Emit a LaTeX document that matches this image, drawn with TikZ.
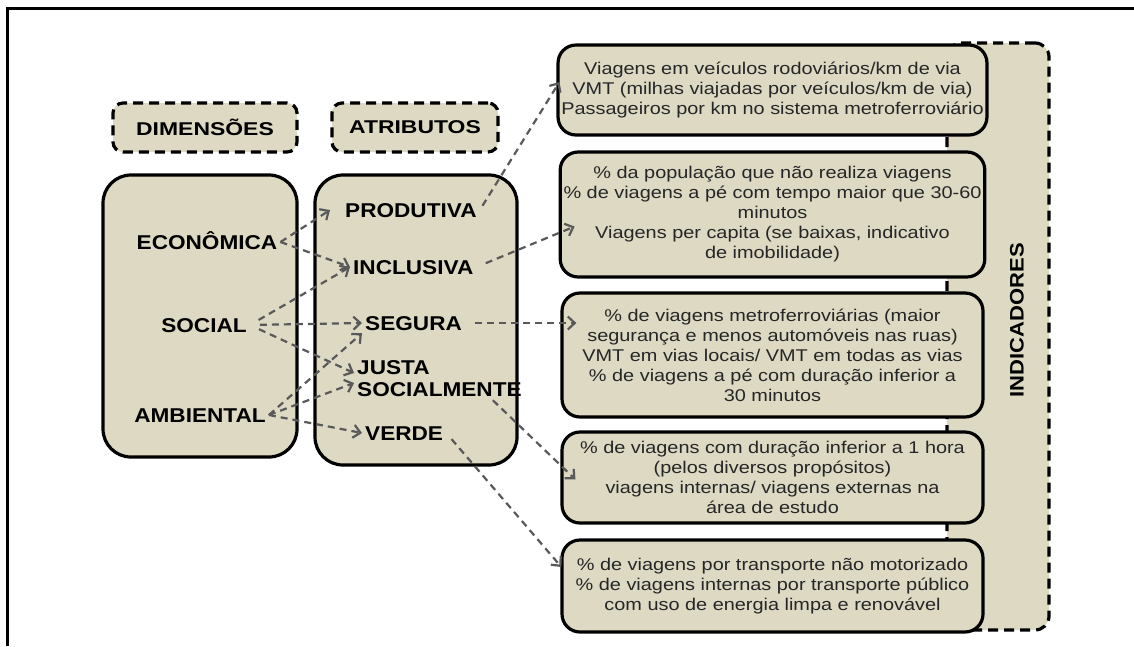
\documentclass[tikz,border=0pt]{standalone}
\usepackage{fontspec}
\setmainfont{Liberation Sans}
\newfontfamily\indfont{Liberation Sans}[FakeStretch=1.17]
\newfontfamily\labfont{Liberation Sans}[FakeStretch=1.13]
\newfontfamily\headfont{Liberation Sans}[FakeStretch=1.24]
\usepackage{tikz}
\usetikzlibrary{arrows.meta, positioning}
\definecolor{boxfill}{HTML}{DDD9C3}
\definecolor{linkgray}{HTML}{595959}
\definecolor{indtext}{HTML}{262626}

\begin{document}
\begin{tikzpicture}[
x=1pt, y=-1pt,
bigbox/.style={rectangle, draw, fill=boxfill, line width=3.2pt, rounded corners=28pt},
headbox/.style={rectangle, draw, fill=boxfill, line width=3.2pt, dash pattern=on 10pt off 6pt, rounded corners=10pt, font=\headfont\bfseries\fontsize{18.5}{20}\selectfont},
indbox/.style={rectangle, draw, fill=boxfill, line width=3.2pt, rounded corners=18pt, minimum width=421pt, align=center, text=indtext, font=\indfont\fontsize{17}{20}\selectfont},
dimtext/.style={font=\labfont\bfseries\fontsize{20}{22}\selectfont, inner sep=3pt, text height=14pt, text depth=0pt},
attrtext/.style={dimtext, anchor=west},
link/.style={draw=linkgray, line width=2.2pt, dash pattern=on 7pt off 5pt, -{Straight Barb[length=7pt,width=13pt]}}
]
\useasboundingbox (0,0) rectangle (1134,646);
\draw[line width=3pt] (7.5,646) -- (7.5,8.5) -- (1134,8.5);

% left columns
\node[bigbox, minimum width=194pt, minimum height=282pt] (dimbox) at (200,316) {};
\node[bigbox, minimum width=202pt, minimum height=290pt] (attrbox) at (416,320) {};
\node[headbox, minimum width=184pt, minimum height=49pt] (dimhead) at (205,127.5) {DIMENSÕES};
\node[headbox, minimum width=166pt, minimum height=49pt] (attrhead) at (415,127.5) {ATRIBUTOS};

\node[dimtext] (eco) at (207,242) {ECONÔMICA};
\node[dimtext] (soc) at (204,325) {SOCIAL};
\node[dimtext] (amb) at (200,415) {AMBIENTAL};

\node[attrtext] (prod) at (342,210) {PRODUTIVA};
\node[attrtext] (incl) at (350,267) {INCLUSIVA};
\node[attrtext] (seg) at (362,323) {SEGURA};
\node[font=\labfont\bfseries\fontsize{20}{22}\selectfont, inner sep=3pt, align=left, anchor=west] (justa) at (354,379) {JUSTA\\SOCIALMENTE};
\node[attrtext] (verde) at (362,433) {VERDE};

% indicators
\node[rectangle, draw, fill=boxfill, line width=3.2pt, dash pattern=on 10pt off 6pt, rounded corners=14pt, minimum width=102pt, minimum height=587pt] (indframe) at (998,336.5) {};
\node[rotate=90, font=\labfont\bfseries\fontsize{19.5}{20}\selectfont] (indtitle) at (1017,320) {INDICADORES};

\node[indbox, minimum height=90pt] (ind1) at (772.5,90) {Viagens em veículos rodoviários/km de via\\VMT (milhas viajadas por veículos/km de via)\\Passageiros por km no sistema metroferroviário};
\node[indbox, minimum height=125pt] (ind2) at (772.5,214.5) {\% da população que não realiza viagens\\\% de viagens a pé com tempo maior que 30-60\\minutos\\Viagens per capita (se baixas, indicativo\\de imobilidade)};
\node[indbox, minimum height=124pt] (ind3) at (772.5,355) {\% de viagens metroferroviárias (maior\\segurança e menos automóveis nas ruas)\\VMT em vias locais/ VMT em todas as vias\\\% de viagens a pé com duração inferior a\\30 minutos};
\node[indbox, minimum height=91pt] (ind4) at (772.5,477.5) {\% de viagens com duração inferior a 1 hora\\(pelos diversos propósitos)\\viagens internas/ viagens externas na\\área de estudo};
\node[indbox, minimum height=92pt] (ind5) at (772.5,586) {\% de viagens por transporte não motorizado\\\% de viagens internas por transporte público\\com uso de energia limpa e renovável};

% links
\draw[link] (eco.east) -- ([xshift=-12pt]prod.west);
\draw[link] (eco.east) -- (incl.west);
\draw[link, shorten <=10pt] (soc.east) -- (incl.west);
\draw[link, shorten <=10pt] (soc.east) -- (seg.west);
\draw[link, shorten <=10pt] (soc.east) -- ([yshift=6pt]justa.west);
\draw[link] (amb.east) -- (seg.south west);
\draw[link] (amb.east) -- ([yshift=-4pt]justa.west);
\draw[link] (amb.east) -- (verde.west);

\draw[link, shorten <=5pt] (prod.east) -- ([xshift=3pt,yshift=8pt]ind1.west);
\draw[link, shorten <=10pt] (incl.east) -- ([xshift=16pt,yshift=-12pt]ind2.west);
\draw[link, shorten <=10pt] (seg.east) -- ([xshift=16pt,yshift=32pt]ind3.west);
\draw[link] ([xshift=-32pt]justa.south east) -- ([xshift=15pt,yshift=-2pt]ind4.west);
\draw[link, shorten <=8pt] (verde.east) -- ([xshift=1pt,yshift=19pt]ind5.west);
\end{tikzpicture}
\end{document}
